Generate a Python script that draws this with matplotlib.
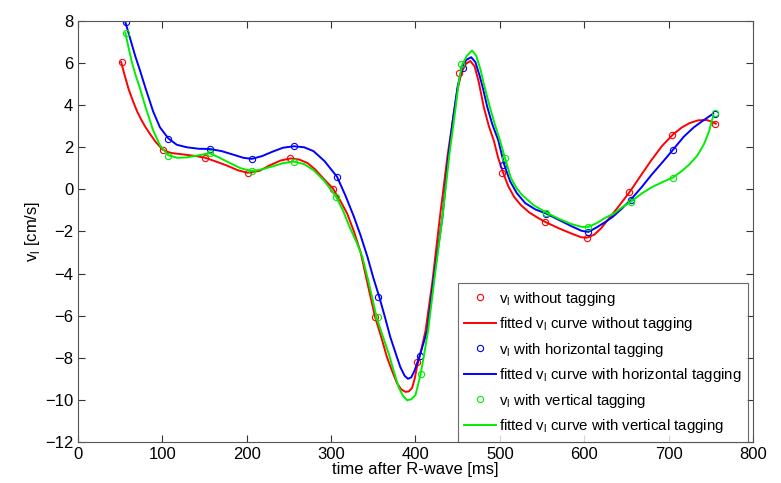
import matplotlib
matplotlib.use("Agg")
import matplotlib.pyplot as plt

plt.rcParams.update(
    {
        "font.family": ["Liberation Sans", "DejaVu Sans"],
        "mathtext.fontset": "custom",
        "mathtext.rm": "Liberation Sans",
        "xtick.labelsize": 12,
        "ytick.labelsize": 12,
        "axes.labelsize": 12,
    }
)

# measured points (every ~50 ms)
red_pts_x = [52, 101, 151, 201, 251, 302, 352, 402, 451, 503, 553, 603, 653, 704, 755]
red_pts_y = [6.05, 1.87, 1.5, 0.76, 1.47, 0.02, -6.07, -8.22, 5.55, 0.77, -1.55, -2.3, -0.12, 2.6, 3.12]

blue_pts_x = [57, 107, 156, 206, 256, 307, 356, 405, 456, 504, 555, 605, 655, 705, 755]
blue_pts_y = [7.95, 2.4, 1.92, 1.45, 2.05, 0.6, -5.12, -7.9, 5.75, 1.16, -1.15, -2.02, -0.5, 1.85, 3.6]

green_pts_x = [57, 107, 156, 206, 256, 306, 355, 406, 454, 506, 555, 604, 655, 705, 755]
green_pts_y = [7.45, 1.6, 1.72, 0.87, 1.3, -0.37, -6.05, -8.75, 5.95, 1.5, -1.12, -1.8, -0.6, 0.56, 3.63]

# fitted curves
red_fit_x = [51, 55, 60, 65, 70, 75, 80, 85, 92, 100, 106, 112, 125, 140, 151, 165, 176, 190,
             201, 215, 227, 240, 252, 262, 272, 281, 290, 302, 311, 319, 327, 335, 343, 352,
             360, 366, 372, 378, 383, 388, 392, 396, 399, 402, 407, 412, 420, 429, 438, 445,
             450, 455, 460, 465, 470, 475, 481, 487, 493, 498, 504, 510, 517, 525, 535, 545,
             554, 570, 585, 596, 603, 612, 620, 628, 640, 654, 667, 679, 692, 705, 716, 725,
             735, 745, 751, 756]
red_fit_y = [6.05, 5.45, 4.75, 4.2, 3.7, 3.3, 2.95, 2.65, 2.25, 1.9, 1.78, 1.72, 1.66, 1.58,
             1.5, 1.3, 1.14, 0.9, 0.79, 0.88, 1.14, 1.37, 1.47, 1.42, 1.25, 0.95, 0.55, 0.05,
             -0.55, -1.15, -2.0, -3.0, -4.45, -6.05, -7.1, -7.95, -8.6, -9.2, -9.5, -9.62,
             -9.6, -9.43, -9.0, -8.4, -7.6, -6.7, -4.4, -1.3, 1.6, 3.5, 4.8, 5.6, 5.98, 6.1,
             5.85, 5.1, 3.9, 3.0, 2.3, 1.5, 0.78, 0.15, -0.36, -0.75, -1.1, -1.35, -1.55,
             -1.85, -2.1, -2.27, -2.3, -2.15, -1.85, -1.45, -0.85, -0.12, 0.65, 1.35, 2.05,
             2.6, 2.95, 3.15, 3.28, 3.3, 3.22, 3.12]

blue_fit_x = [56, 60, 64, 68, 73, 80, 89, 97, 107, 117, 129, 143, 156, 170, 184, 196, 206,
              218, 231, 243, 256, 268, 279, 292, 307, 317, 327, 335, 343, 350, 357, 364, 370,
              377, 382, 387, 391, 395, 399, 405, 414, 421, 432, 439, 445, 450, 455, 460, 466,
              471, 476, 480, 485, 491, 498, 502, 505, 512, 520, 530, 542, 555, 570, 585, 597,
              605, 615, 625, 634, 645, 655, 668, 680, 693, 705, 718, 730, 742, 753]
blue_fit_y = [7.95, 7.4, 6.85, 6.3, 5.7, 4.8, 3.7, 2.95, 2.42, 2.12, 2.0, 1.93, 1.92, 1.82,
              1.65, 1.5, 1.45, 1.58, 1.8, 1.98, 2.05, 2.0, 1.82, 1.35, 0.6, -0.3, -1.3, -2.2,
              -3.2, -4.2, -5.1, -6.1, -7.0, -7.85, -8.44, -8.85, -9.0, -8.93, -8.6, -7.9, -6.7,
              -4.4, -1.3, 1.6, 3.5, 4.9, 5.75, 6.15, 6.28, 6.05, 5.4, 4.8, 3.93, 3.1, 2.35,
              1.7, 1.2, 0.4, -0.17, -0.65, -0.95, -1.15, -1.45, -1.75, -1.97, -2.02, -1.8,
              -1.55, -1.3, -0.9, -0.5, 0.1, 0.7, 1.3, 1.87, 2.5, 2.95, 3.3, 3.6]

green_fit_x = [56, 60, 64, 68, 73, 80, 89, 97, 107, 118, 129, 143, 156, 168, 180, 193, 206,
               218, 231, 243, 256, 268, 279, 292, 306, 314, 322, 330, 337, 345, 354, 361, 368,
               374, 380, 385, 390, 395, 400, 406, 410, 415, 422, 432, 440, 447, 451, 455, 461,
               467, 472, 477, 482, 488, 494, 500, 506, 513, 520, 526, 540, 555, 570, 585, 597,
               605, 615, 625, 635, 645, 655, 668, 680, 693, 705, 716, 725, 734, 742, 748, 753]
green_fit_y = [7.45, 6.7, 6.0, 5.45, 4.85, 3.9, 2.8, 2.1, 1.62, 1.5, 1.52, 1.62, 1.72, 1.5,
               1.25, 1.0, 0.87, 0.95, 1.1, 1.25, 1.32, 1.2, 0.92, 0.4, -0.36, -1.0, -1.8, -2.5,
               -3.2, -4.5, -6.1, -6.95, -7.77, -8.6, -9.4, -9.8, -10.02, -9.97, -9.77, -8.8,
               -7.9, -6.7, -4.4, -1.3, 1.6, 3.7, 5.0, 5.9, 6.35, 6.6, 6.35, 5.7, 4.85, 3.93,
               3.1, 2.35, 1.5, 0.55, 0.05, -0.25, -0.75, -1.1, -1.4, -1.65, -1.78, -1.78, -1.6,
               -1.35, -1.15, -0.85, -0.6, -0.2, 0.1, 0.35, 0.56, 0.88, 1.2, 1.6, 2.15, 2.75, 3.5]

RED = "#ff0000"
BLUE = "#0000ff"
GREEN = "#00ee00"

VL = r"v$_\mathregular{l}$"

fig = plt.figure(figsize=(7.81, 4.83), dpi=100)
ax = fig.add_axes([0.1, 0.085, 0.864, 0.8715])

mk = dict(linestyle="none", marker="o", markersize=4.5, markerfacecolor="none", markeredgewidth=0.8)

ax.plot(red_pts_x, red_pts_y, color=RED, label=f"{VL} without tagging", **mk)
ax.plot(red_fit_x, red_fit_y, color=RED, lw=1.4, label=f"fitted {VL} curve without tagging")
ax.plot(blue_pts_x, blue_pts_y, color=BLUE, label=f"{VL} with horizontal tagging", **mk)
ax.plot(blue_fit_x, blue_fit_y, color=BLUE, lw=1.4, label=f"fitted {VL} curve with horizontal tagging")
ax.plot(green_pts_x, green_pts_y, color=GREEN, label=f"{VL} with vertical tagging", **mk)
ax.plot(green_fit_x, green_fit_y, color=GREEN, lw=1.4, label=f"fitted {VL} curve with vertical tagging")

ax.set_xlim(0, 800)
ax.set_ylim(-12, 8)
ax.set_xticks(range(0, 801, 100))
ax.set_yticks(range(-12, 9, 2))
ax.tick_params(direction="in", top=True, right=True, length=5, width=0.8, colors="#333333",
               labelcolor="black")
for s in ax.spines.values():
    s.set_color("#555555")
    s.set_linewidth(0.8)

ax.set_xlabel("time after R-wave [ms]", labelpad=0)
ax.set_ylabel(f"{VL} [cm/s]", labelpad=2)

leg = ax.legend(loc="lower right", bbox_to_anchor=(0.993, 0.0), fontsize=10.8, frameon=True,
                fancybox=False, edgecolor="#444444", handlelength=2.1, handletextpad=0.2,
                borderpad=0.45, labelspacing=0.5, borderaxespad=0.0)
leg.get_frame().set_linewidth(0.8)

fig.savefig("out.png", dpi=100)
